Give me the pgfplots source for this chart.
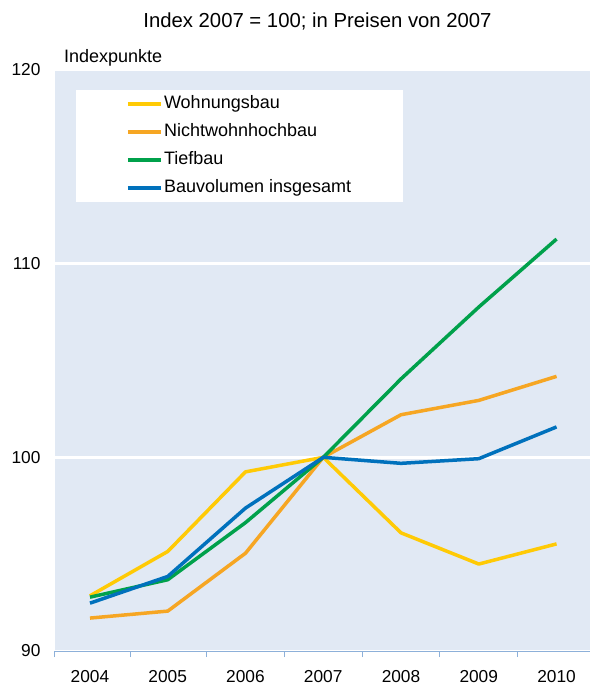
\documentclass[border=0pt]{standalone}
\usepackage{fontspec}
\setmainfont{Liberation Sans}
\usepackage{pgfplots}
\pgfplotsset{compat=1.18}
\definecolor{bg}{HTML}{E1E9F4}
\definecolor{cyel}{HTML}{FFCA05}
\definecolor{cora}{HTML}{F6A623}
\definecolor{cgre}{HTML}{00A14B}
\definecolor{cblu}{HTML}{0071BC}
\definecolor{tickc}{HTML}{8DB0D9}
\newcommand{\fs}{\fontsize{17.3}{20}\selectfont}
\newcommand{\fl}{\fontsize{18}{21}\selectfont}
\newcommand{\ft}{\fontsize{20.3}{24}\selectfont}
\begin{document}
\begin{tikzpicture}
\useasboundingbox (-55pt,-37pt) rectangle (535pt,651pt);
\begin{axis}[at={(0pt,0pt)}, anchor=south west, scale only axis,
  width=535pt, height=581pt,
  xmin=2003.55, xmax=2010.43, ymin=90, ymax=120,
  axis background/.style={fill=bg},
  axis x line=bottom, axis y line=left,
  x axis line style={-, draw=tickc, line width=1pt},
  y axis line style={draw=none},
  xtick={2004,...,2010}, ytick={90,100,110,120},
  minor xtick={2003.55,2004.52,2005.5,2006.5,2007.5,2008.5,2009.5},
  tick align=outside,
  major tick length=0pt, minor tick length=6pt,
  minor x tick style={draw=tickc, line width=1pt},
  ymajorgrids, grid style={white, line width=3pt},
  /pgf/number format/assume math mode=true,
  /pgf/number format/1000 sep={},
  xticklabel style={font=\fs, yshift=-16pt},
  yticklabel style={font=\fs, xshift=-11pt},
  legend style={at={(rel axis cs:0.039,0.9656)}, anchor=north west,
    fill=white, draw=none, inner xsep=50pt, inner ysep=4.5pt, row sep=9pt,
    font=\fl, nodes={inner sep=1.5pt, text height=12.5pt, text depth=3.5pt}},
  legend cell align=left,
  legend image code/.code={\draw[#1, line width=3.5pt] (0pt,0pt) -- (33pt,0pt);},
  every axis plot/.append style={line width=3.5pt, line join=round},
  clip=false,
]
\addplot[cyel] coordinates {(2004,92.85) (2005,95.14) (2006,99.25) (2007,100) (2008,96.1) (2009,94.49) (2010,95.53)};
\addlegendentry{Wohnungsbau}
\addplot[cora] coordinates {(2004,91.70) (2005,92.06) (2006,95.05) (2007,100) (2008,102.2) (2009,102.94) (2010,104.18)};
\addlegendentry{Nichtwohnhochbau}
\addplot[cgre] coordinates {(2004,92.78) (2005,93.68) (2006,96.63) (2007,100) (2008,104.05) (2009,107.76) (2010,111.27)};
\addlegendentry{Tiefbau}
\addplot[cblu] coordinates {(2004,92.47) (2005,93.85) (2006,97.38) (2007,100) (2008,99.69) (2009,99.93) (2010,101.57)};
\addlegendentry{Bauvolumen insgesamt}
\node[font=\ft, anchor=base] at ([xshift=-5pt, yshift=42pt]rel axis cs:0.5,1) {Index 2007 = 100; in Preisen von 2007};
\node[font=\fl, anchor=base west] at ([xshift=5.5pt, yshift=7.5pt]rel axis cs:0,1) {Indexpunkte};
\end{axis}
\end{tikzpicture}
\end{document}
